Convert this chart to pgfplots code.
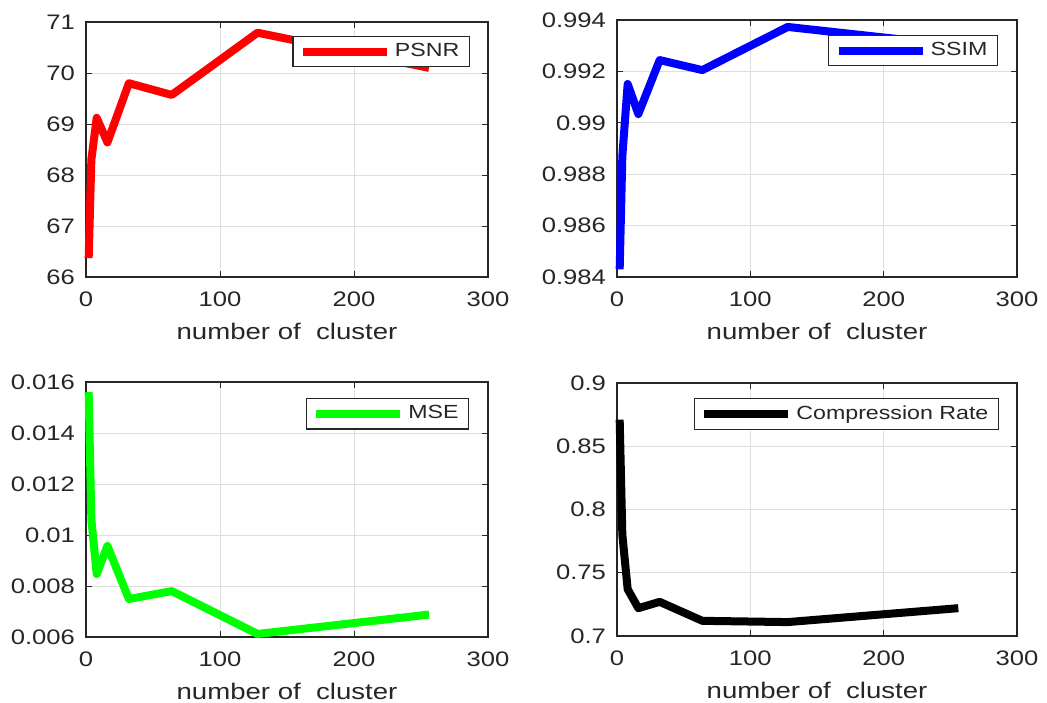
\documentclass[border=0pt]{standalone}
\usepackage{fontspec}
\setmainfont{Liberation Sans}[FakeStretch=1.22]
\usepackage{pgfplots}
\pgfplotsset{compat=1.18}
\definecolor{axgray}{RGB}{38,38,38}
\definecolor{gridgray}{RGB}{222,222,222}
\pgfplotsset{
  mat/.style={
    scale only axis, width=201pt, height=127.5pt,
    anchor=south west, clip=false,
    xmin=0, xmax=300,
    xtick={0,100,200,300}, xticklabels={0,100,200,300},
    scaled y ticks=false,
    axis line style={axgray, line width=0.6pt},
    tick style={axgray, line width=0.5pt},
    tick align=inside, major tick length=3pt,
    xmajorgrids, ymajorgrids,
    grid style={gridgray, line width=0.5pt},
    ticklabel style={font=\fontsize{10.5}{12}\selectfont, text=axgray},
    xticklabel style={yshift=-4pt},
    yticklabel style={xshift=-2pt},
    xlabel={number of\ \ cluster},
    xlabel style={font=\fontsize{11.3}{13}\selectfont, text=axgray, yshift=-1pt},
    legend cell align=left,
    legend style={draw=axgray, line width=0.6pt, fill=white,
      font=\fontsize{9.5}{11}\selectfont, text=axgray,
      inner xsep=3pt, inner ysep=1.5pt, anchor=north east},
    legend image code/.code={\draw[line width=4pt] (0pt,0pt) -- (42pt,0pt);},
  },
  dat/.style={line width=4pt, line join=round, line cap=butt},
}
\begin{document}
\begin{tikzpicture}[x=1pt,y=1pt]
\useasboundingbox (0,0) rectangle (523.5,351);

% top left: PSNR
\begin{axis}[mat, at={(43pt,212.5pt)},
  ymin=66, ymax=71, ytick={66,67,68,69,70,71},
  yticklabels={66,67,68,69,70,71},
  legend style={at={(0.955,0.945)}}]
\addplot[dat, red] coordinates {(2,66.37) (4,68.3) (8,69.12) (16,68.64) (32,69.8) (64,69.57) (128,70.79) (256,70.1)};
\addlegendentry{PSNR}
\end{axis}

% top right: SSIM
\begin{axis}[mat, at={(308.5pt,212.5pt)}, width=200pt, height=128.5pt,
  ymin=0.984, ymax=0.994, ytick={0.984,0.986,0.988,0.99,0.992,0.994},
  yticklabels={0.984,0.986,0.988,0.99,0.992,0.994},
  legend style={at={(0.9525,0.942)}}]
\addplot[dat, blue] coordinates {(2,0.9843) (4,0.9887) (8,0.99151) (16,0.99034) (32,0.99244) (64,0.99205) (128,0.99373) (256,0.9930)};
\addlegendentry{SSIM}
\end{axis}

% bottom left: MSE
\begin{axis}[mat, at={(43pt,32.5pt)},
  ymin=0.006, ymax=0.016, ytick={0.006,0.008,0.01,0.012,0.014,0.016},
  yticklabels={0.006,0.008,0.01,0.012,0.014,0.016},
  legend style={at={(0.953,0.937)}}]
\addplot[dat, green] coordinates {(2,0.0156) (4,0.0106) (8,0.00847) (16,0.00957) (32,0.00749) (64,0.0078) (128,0.00612) (256,0.00688)};
\addlegendentry{MSE}
\end{axis}

% bottom right: Compression Rate
\begin{axis}[mat, at={(308.5pt,33pt)}, width=200pt, height=126.5pt,
  ymin=0.7, ymax=0.9, ytick={0.7,0.75,0.8,0.85,0.9},
  yticklabels={0.7,0.75,0.8,0.85,0.9},
  legend style={at={(0.955,0.94)}}]
\addplot[dat, black] coordinates {(2,0.871) (4,0.78) (8,0.737) (16,0.722) (32,0.727) (64,0.712) (128,0.711) (256,0.722)};
\addlegendentry{Compression Rate}
\end{axis}
\end{tikzpicture}
\end{document}
